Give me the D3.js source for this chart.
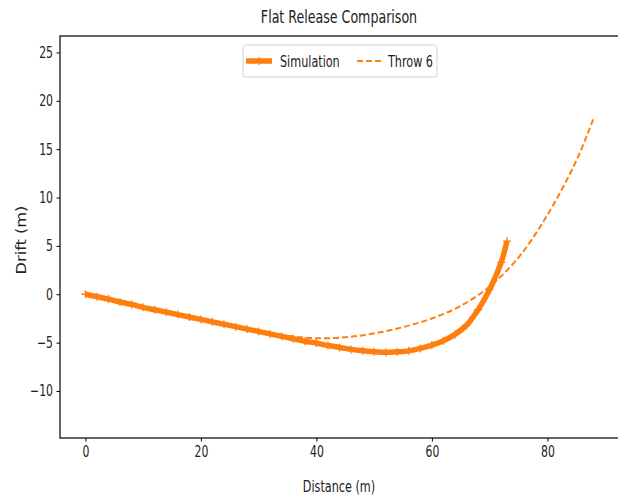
<!DOCTYPE html>
<html>
<head>
<meta charset="utf-8">
<script src="https://cdn.jsdelivr.net/npm/d3@7"></script>
<style>
  body { margin: 0; background: #fff; }
  text { font-family: "DejaVu Sans Condensed", "DejaVu Sans", sans-serif; fill: #222; }
</style>
</head>
<body>
<div id="chart"></div>
<script>
// Settings
const SIZE = [618, 502]
const MARGIN = {top: 36, right: -1, bottom: 64, left: 60}
const COLOR = "#ff7f0e"
const SQUASH = 0.78   // text in the reference is narrowed horizontally

// Data
const simX = [0, 2, 4, 6, 8, 10, 12, 14, 16, 18, 20, 22, 24, 26, 28, 30, 32, 34, 36, 38,
  40, 42, 44, 46, 48, 50, 52, 54, 56, 58, 60, 62, 64, 66, 68, 70, 72, 73]
const simY = [0.0, -0.25, -0.5, -0.8, -1.05, -1.35, -1.6, -1.85, -2.1, -2.35, -2.6, -2.85, -3.1, -3.35, -3.6, -3.85, -4.1, -4.35, -4.6, -4.85,
  -5.05, -5.3, -5.5, -5.7, -5.85, -5.95, -6.0, -5.95, -5.85, -5.6, -5.25, -4.8, -4.15, -3.2, -1.6, 0.5, 3.3, 5.5]
const throwX = [0, 5, 10, 15, 20, 25, 30, 35, 40, 45, 50, 55, 60, 65, 70, 75, 80, 85, 88]
const throwY = [0, -0.65, -1.3, -1.95, -2.6, -3.2, -3.8, -4.3, -4.55, -4.45, -4.05, -3.4, -2.5, -1.2, 0.8, 3.8, 8.2, 13.8, 18.2]
const xTicks = [0, 20, 40, 60, 80]
const yTicks = [-10, -5, 0, 5, 10, 15, 20, 25]
const seriesNames = ["Simulation", "Throw 6"]

const xDomain = [-4.4, 92.4]
const yDomain = [-14.86, 26.7]

const svg = d3.select("#chart").append("svg")
  .attr("width", SIZE[0])
  .attr("height", SIZE[1])

const x = d3.scaleLinear().domain(xDomain).range([MARGIN.left, SIZE[0] - MARGIN.right])
const y = d3.scaleLinear().domain(yDomain).range([SIZE[1] - MARGIN.bottom, MARGIN.top])

const fmt = d => d < 0 ? "\u2212" + Math.abs(d) : String(d)

// narrow text placed at (px, py)
function label(parent, px, py, str, size, anchor) {
  return parent.append("text")
    .attr("transform", `translate(${px},${py}) scale(${SQUASH},1)`)
    .attr("text-anchor", anchor || "start")
    .attr("font-size", size)
    .text(str)
}

// axes
svg.append("g")
  .attr("transform", `translate(0,${SIZE[1] - MARGIN.bottom})`)
  .call(d3.axisBottom(x).tickValues(xTicks).tickFormat(fmt).tickSize(3.5).tickPadding(5))
  .call(g => g.select(".domain").remove())
  .call(g => g.selectAll("text")
    .attr("font-size", 15.5).attr("fill", "#222")
    .attr("transform", `scale(${SQUASH},1)`))

svg.append("g")
  .attr("transform", `translate(${MARGIN.left},0)`)
  .call(d3.axisLeft(y).tickValues(yTicks).tickFormat(fmt).tickSize(3.5).tickPadding(4))
  .call(g => g.select(".domain").remove())
  .call(g => g.selectAll("text")
    .attr("font-size", 15.5).attr("fill", "#222")
    .attr("x", -7 / SQUASH)
    .attr("transform", `scale(${SQUASH},1)`))

svg.append("clipPath").attr("id", "clip")
  .append("rect")
  .attr("x", MARGIN.left).attr("y", MARGIN.top)
  .attr("width", SIZE[0] - MARGIN.right - MARGIN.left)
  .attr("height", SIZE[1] - MARGIN.bottom - MARGIN.top)

const plotArea = svg.append("g").attr("clip-path", "url(#clip)")

const simData = simX.map((d, i) => [d, simY[i]])
const throwData = throwX.map((d, i) => [d, throwY[i]])

const line = d3.line()
  .x(d => x(d[0]))
  .y(d => y(d[1]))
  .curve(d3.curveCatmullRom.alpha(0.5))

plotArea.append("path")
  .datum(simData)
  .attr("fill", "none")
  .attr("stroke", COLOR)
  .attr("stroke-width", 5.5)
  .attr("stroke-linejoin", "round")
  .attr("d", line)

// '+' markers on the simulation
plotArea.append("g")
  .attr("stroke", COLOR)
  .attr("stroke-width", 1.3)
  .selectAll("path")
  .data(simData)
  .join("path")
    .attr("d", d => `M${x(d[0]) - 4},${y(d[1])}h8M${x(d[0])},${y(d[1]) - 4}v8`)

plotArea.append("path")
  .datum(throwData)
  .attr("fill", "none")
  .attr("stroke", COLOR)
  .attr("stroke-width", 2)
  .attr("stroke-dasharray", "6,3")
  .attr("d", line)

// frame
svg.append("rect")
  .attr("x", MARGIN.left).attr("y", MARGIN.top)
  .attr("width", SIZE[0] - MARGIN.right - MARGIN.left)
  .attr("height", SIZE[1] - MARGIN.bottom - MARGIN.top)
  .attr("fill", "none")
  .attr("stroke", "#000")
  .attr("stroke-width", 1.2)

// title and labels
label(svg, 339, 23, "Flat Release Comparison", 18, "middle")
label(svg, 339, 492, "Distance (m)", 16, "middle")

svg.append("text")
  .attr("transform", `translate(26,${(MARGIN.top + SIZE[1] - MARGIN.bottom) / 2 + 3}) rotate(-90) scale(1,${SQUASH})`)
  .attr("text-anchor", "middle")
  .attr("font-family", "DejaVu Sans")
  .attr("font-size", 18)
  .text("Drift (m)")

// legend
const legend = svg.append("g").attr("transform", "translate(243,45)")
legend.append("rect")
  .attr("width", 194).attr("height", 32).attr("rx", 3)
  .attr("fill", "#fff").attr("fill-opacity", 0.8)
  .attr("stroke", "#d0d0d0")

legend.append("line")
  .attr("x1", 3).attr("x2", 29).attr("y1", 16).attr("y2", 16)
  .attr("stroke", COLOR).attr("stroke-width", 5.5)
legend.append("path")
  .attr("d", "M12,16h8M16,12v8")
  .attr("stroke", COLOR).attr("stroke-width", 1.3)
label(legend, 37, 21.5, seriesNames[0], 16)

legend.append("line")
  .attr("x1", 114).attr("x2", 138).attr("y1", 16).attr("y2", 16)
  .attr("stroke", COLOR).attr("stroke-width", 2).attr("stroke-dasharray", "6,3")
label(legend, 145, 21.5, seriesNames[1], 16)
</script>
</body>
</html>
